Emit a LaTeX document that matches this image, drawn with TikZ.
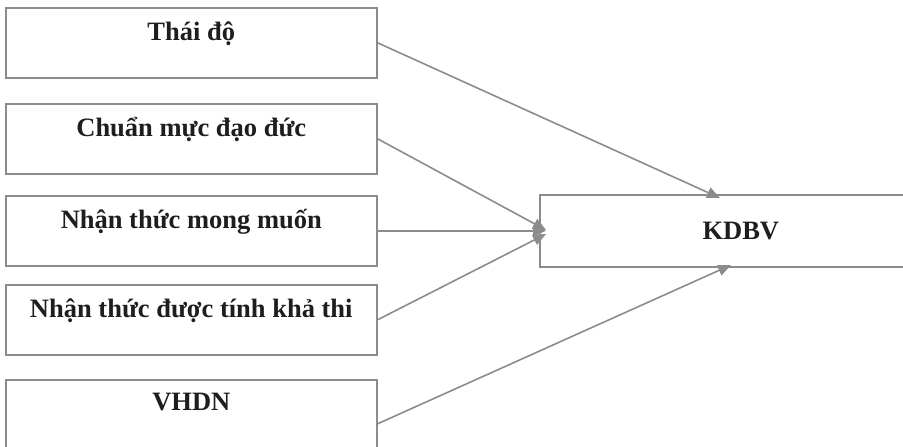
\documentclass[tikz,border=0pt]{standalone}
\usepackage{fontspec}
\setmainfont{Liberation Serif}
\usetikzlibrary{arrows.meta}
\definecolor{linegray}{RGB}{140,140,140}
\definecolor{textblack}{RGB}{30,30,30}
\tikzset{
  leftbox/.style={draw=linegray, line width=1.6pt, inner sep=0pt, anchor=north west,
    minimum width=371pt, text height=33pt, text depth=37pt, text=textblack,
    font=\fontsize{26.5}{30}\selectfont\bfseries},
  conn/.style={draw=linegray, line width=1.6pt,
    -{Triangle[length=13pt,width=11pt]}}
}
\begin{document}
\begin{tikzpicture}[x=1pt,y=-1pt]
\useasboundingbox (0,0) rectangle (903,447);
\fill[white] (0,0) rectangle (903,447);
\node[leftbox] (t1) at (5,7) {Thái độ};
\node[leftbox] (t2) at (5,103) {Chuẩn mực đạo đức};
\node[leftbox] (t3) at (5,195) {Nhận thức mong muốn};
\node[leftbox] (t4) at (5,284) {Nhận thức được tính khả thi};
\node[leftbox, text height=31pt, text depth=57pt] (t5) at (5,379) {VHDN};
\node[leftbox, minimum width=402pt, text height=45pt, text depth=27pt] (kd) at (539,194) {KDBV};
\coordinate (e1) at (720,198);
\coordinate (e2) at (546,230);
\coordinate (e4) at (546,234);
\coordinate (e5) at (731,265);
\draw[conn] (t1.east) -- (e1);
\draw[conn] (t2.east) -- (e2);
\draw[conn] (t3.east) -- (t3.east -| e2);
\draw[conn] (t4.east) -- (e4);
\draw[conn] (t5.east) -- (e5);
\end{tikzpicture}
\end{document}
